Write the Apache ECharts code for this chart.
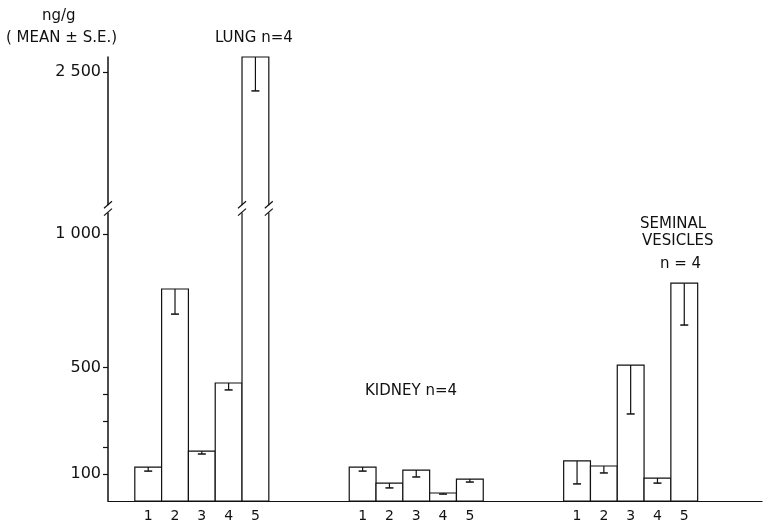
<!DOCTYPE html>
<html>
<head>
<meta charset="utf-8">
<script src="https://cdn.jsdelivr.net/npm/echarts@6/dist/echarts.min.js"></script>
<style>html,body{margin:0;padding:0;background:#fff}#c{width:773px;height:528px}</style>
</head>
<body>
<div id="c"></div>
<script>
// ---- data ----
const groupNames = ['LUNG n=4', 'KIDNEY n=4', 'SEMINAL VESICLES n = 4'];
const barLabels = ['1', '2', '3', '4', '5'];
const lungMean = [127, 794, 187, 442, 2556];
const lungSE = [15, 94, 11, 26, 127];
const kidneyMean = [127, 67, 116, 30, 82];
const kidneySE = [15, 18, 26, 4, 11];
const seminalMean = [150, 131, 509, 86, 816];
const seminalSE = [86, 26, 183, 19, 157];
const yLabelValues = [100, 500, 1000, 2500];
const yMinorValues = [200, 300, 400];

// ---- broken-axis mapping ----
const BREAK_OFFSET = 893;          // upper segment shift
const BREAK_LO = 1080, BREAK_HI = 1108; // display gap
function toDisp(v) { return v > 1500 ? v - BREAK_OFFSET : v; }
function fmtNum(v) { return v >= 1000 ? String(v).replace(/(\d)(\d{3})$/, '$1 $2') : String(v); }

const groupStart = [1, 9, 17];
const groupMeans = [lungMean, kidneyMean, seminalMean];
const groupSEs = [lungSE, kidneySE, seminalSE];
const barData = [];
const labelPos = {};
groupMeans.forEach((arr, g) => {
  arr.forEach((m, i) => {
    const x = groupStart[g] + i;
    barData.push([x, m, groupSEs[g][i]]);
    labelPos[(x + 0.5).toFixed(1)] = barLabels[i];
  });
});

const INK = '#111';
function breakMarks(x, api) {
  const lo = api.coord([0, BREAK_LO])[1];
  const hi = api.coord([0, BREAK_HI])[1];
  return [
    { type: 'rect', shape: { x: x - 3, y: hi, width: 6, height: lo - hi }, style: { fill: '#fff' } },
    { type: 'line', shape: { x1: x - 4, y1: hi + 3, x2: x + 4, y2: hi - 4 }, style: { stroke: INK, lineWidth: 1.2 } },
    { type: 'line', shape: { x1: x - 4, y1: lo + 3, x2: x + 4, y2: lo - 4 }, style: { stroke: INK, lineWidth: 1.2 } }
  ];
}

function renderBar(params, api) {
  const x = api.value(0), mean = api.value(1), se = api.value(2);
  const tl = api.coord([x, toDisp(mean)]);
  const br = api.coord([x + 1, 0]);
  const lowY = api.coord([x, toDisp(mean - se)])[1];
  const cx = (tl[0] + br[0]) / 2;
  const children = [
    { type: 'rect', shape: { x: tl[0], y: tl[1], width: br[0] - tl[0], height: br[1] - tl[1] },
      style: { fill: '#fff', stroke: INK, lineWidth: 1.2 } },
    { type: 'line', shape: { x1: cx, y1: tl[1], x2: cx, y2: lowY }, style: { stroke: INK, lineWidth: 1.2 } },
    { type: 'line', shape: { x1: cx - 4, y1: lowY, x2: cx + 4, y2: lowY }, style: { stroke: INK, lineWidth: 1.5 } }
  ];
  if (toDisp(mean) > BREAK_HI) {
    children.push(...breakMarks(tl[0], api), ...breakMarks(br[0], api));
  }
  return { type: 'group', children };
}

function renderAxisBreak(params, api) {
  const x = api.coord([0, 0])[0];
  return { type: 'group', children: breakMarks(x, api) };
}

const FONT = 'DejaVu Sans';
const chart = echarts.init(document.getElementById('c'), null, { renderer: 'canvas' });
chart.setOption({
  animation: false,
  backgroundColor: '#fff',
  grid: { left: 108, right: 11, top: 57, bottom: 27 },
  xAxis: {
    type: 'value', min: 0, max: 24.4,
    splitLine: { show: false },
    axisLine: { lineStyle: { color: INK, width: 1.2 } },
    axisTick: { show: false },
    axisLabel: {
      customValues: Object.keys(labelPos).map(Number),
      formatter: v => labelPos[v.toFixed(1)] || '',
      color: INK, fontFamily: FONT, fontSize: 14, margin: 8
    }
  },
  yAxis: {
    type: 'value', min: 0, max: 1663,
    splitLine: { show: false },
    axisLine: { show: true, lineStyle: { color: INK, width: 1.5 } },
    axisTick: { show: true, length: 5, customValues: yLabelValues.concat(yMinorValues).map(toDisp), lineStyle: { color: INK, width: 1.2 } },
    axisLabel: {
      customValues: yLabelValues.map(toDisp),
      formatter: v => {
        const idx = yLabelValues.map(toDisp).indexOf(v);
        return idx >= 0 ? fmtNum(yLabelValues[idx]) : '';
      },
      color: INK, fontFamily: FONT, fontSize: 16, margin: 7
    }
  },
  graphic: [
    { type: 'text', left: 42, top: 9, style: { text: 'ng/g', font: '15px ' + FONT, fill: INK } },
    { type: 'text', left: 6, top: 31, style: { text: '( MEAN ± S.E.)', font: '15px ' + FONT, fill: INK } },
    { type: 'text', left: 215, top: 31, style: { text: groupNames[0], font: '15px ' + FONT, fill: INK } },
    { type: 'text', left: 365, top: 384, style: { text: groupNames[1], font: '15px ' + FONT, fill: INK } },
    { type: 'text', left: 640, top: 217, style: { text: 'SEMINAL', font: '15px ' + FONT, fill: INK } },
    { type: 'text', left: 642, top: 234, style: { text: 'VESICLES', font: '15px ' + FONT, fill: INK } },
    { type: 'text', left: 660, top: 257, style: { text: 'n = 4', font: '15px ' + FONT, fill: INK } }
  ],
  series: [
    { type: 'custom', renderItem: renderBar, data: barData, encode: { x: 0, y: 1 }, z: 3 },
    { type: 'custom', renderItem: renderAxisBreak, data: [[0, BREAK_LO]], encode: { x: 0, y: 1 }, z: 4 }
  ]
});
</script>
</body>
</html>
